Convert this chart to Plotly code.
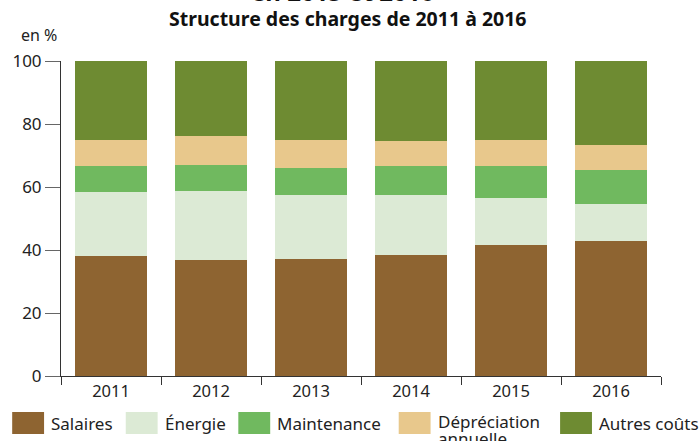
import plotly.graph_objects as go

years = ["2011", "2012", "2013", "2014", "2015", "2016"]
series_names = ["Salaires", "Énergie", "Maintenance", "Dépréciation annuelle", "Autres coûts"]
salaires = [38.1, 36.8, 37.1, 38.4, 41.6, 42.9]
energie = [20.3, 21.9, 20.4, 19.1, 14.9, 11.7]
maintenance = [8.3, 8.3, 8.5, 9.2, 10.2, 10.8]
depreciation = [8.2, 9.2, 8.9, 7.9, 8.2, 7.9]
autres = [25.1, 23.8, 25.1, 25.4, 25.1, 26.7]
colors = ["#8E6431", "#DCEAD5", "#70B95F", "#E8C88C", "#6E8B32"]
yticks = [0, 20, 40, 60, 80, 100]

FONT = "Noto Sans"
fig = go.Figure()
for name, vals, col in zip(series_names, [salaires, energie, maintenance, depreciation, autres], colors):
    fig.add_trace(go.Bar(x=years, y=vals, name=name, marker=dict(color=col, line=dict(width=0)),
                         showlegend=False))

PX0, PX1, PY0, PY1 = 59, 661.3, 61, 376
PW, PH = PX1 - PX0, PY1 - PY0


def px(x):
    return (x - PX0) / PW


def py(y):
    return (PY1 - y) / PH


# manual legend
leg_x = [10, 124, 237, 398, 560]
W, H = 699, 441
for name, col, lx in zip(series_names, colors, leg_x):
    fig.add_shape(type="rect", xref="paper", yref="paper",
                  x0=px(lx), x1=px(lx + 32), y0=py(434), y1=py(412),
                  fillcolor=col, line=dict(width=0), layer="above")
    words = name.split(" ") if name.startswith("Dépréciation") else [name]
    ys = [421, 438] if len(words) == 2 else [423]
    for wtxt, yy in zip(words, ys):
        fig.add_annotation(xref="paper", yref="paper", x=px(lx + 37), y=py(yy),
                           text=wtxt, showarrow=False, xanchor="left", yanchor="middle",
                           align="left", font=dict(size=17, color="#222", family=FONT))

fig.add_annotation(xref="paper", yref="paper", x=px(37), y=py(35),
                   text="en %", showarrow=False, xanchor="center", yanchor="middle",
                   font=dict(size=16, color="#222", family=FONT))
fig.add_annotation(xref="paper", yref="paper", x=px(347), y=py(18),
                   text="<b>Structure des charges de 2011 à 2016</b>", showarrow=False,
                   xanchor="center", yanchor="middle",
                   font=dict(size=19.5, color="#111", family=FONT))
fig.add_annotation(xref="paper", yref="paper", x=px(342), y=py(-8.5),
                   text="<b>en 2015 et 2016</b>", showarrow=False,
                   xanchor="center", yanchor="middle",
                   font=dict(size=24, color="#111", family=FONT))

fig.update_layout(
    width=W, height=H, barmode="stack", bargap=0.273,
    margin=dict(l=PX0, r=W - PX1, t=PY0, b=H - PY1),
    plot_bgcolor="white", paper_bgcolor="white",
    font=dict(family=FONT, size=16, color="#222"),
    xaxis=dict(type="category", showline=True, linecolor="#333", linewidth=1,
               ticks="outside", tickson="boundaries", ticklen=8, tickcolor="#333",
               showgrid=False, tickfont=dict(size=16.5, color="#222")),
    yaxis=dict(range=[0, 100], tickvals=yticks, showline=True, linecolor="#333", linewidth=1,
               ticks="outside", ticklen=15, tickcolor="#666", showgrid=False, zeroline=False,
               tickfont=dict(size=17, color="#222")),
)
fig.write_html("out.html", config={"displayModeBar": False},
               post_script="document.body.style.margin='0';document.body.style.overflow='hidden';")
